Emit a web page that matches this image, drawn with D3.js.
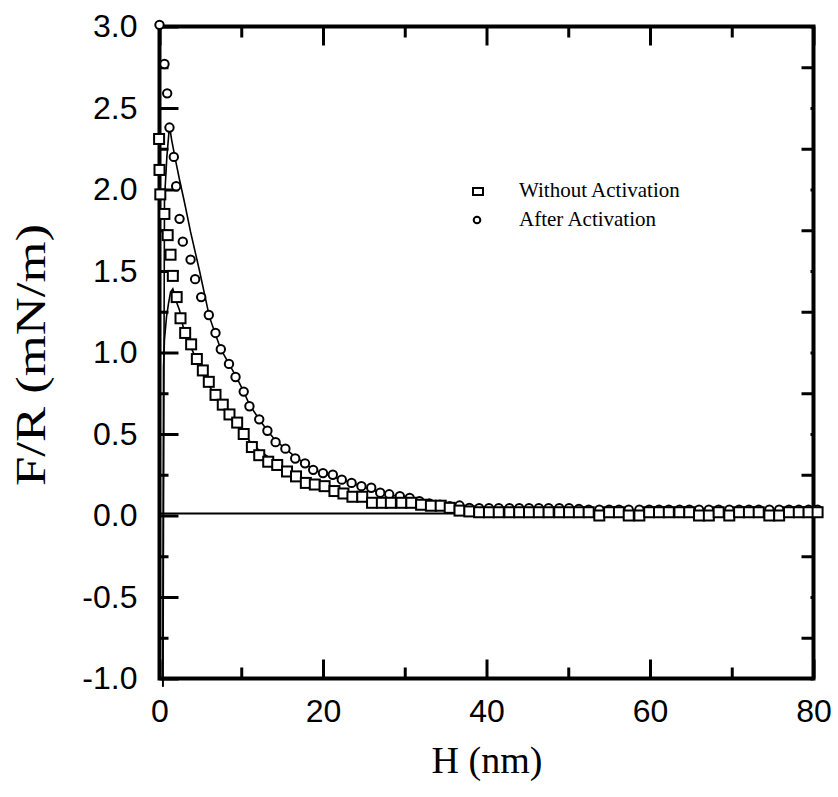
<!DOCTYPE html>
<html>
<head>
<meta charset="utf-8">
<script src="https://cdn.jsdelivr.net/npm/d3@7"></script>
<style>
body { margin: 0; background: #fff; }
.tick text { font-family: "Liberation Sans", Arial, sans-serif; font-size: 32px; fill: #000; }
</style>
</head>
<body>
<div class="container"></div>
<script>

// without activation (squares)
var sqH = [-0.05, 0, 0.1, 0.6, 1.0, 1.35, 1.63, 2.1, 2.57, 3.14, 3.87, 4.57, 5.3, 6.03, 6.85, 7.74, 8.56, 9.5,
	10.3, 11.3, 12.2, 13.3, 14.4, 15.6, 16.7, 17.9, 19.0, 20.2, 21.4, 22.5, 23.6, 24.8, 26.0, 27.2, 28.3, 29.6,
	30.8, 32.0, 33.2, 34.4, 35.5, 36.7, 37.9, 39.1, 40.3, 41.5, 42.8, 44.0, 45.2, 46.4, 47.6, 48.9, 50.1, 51.3,
	52.5, 53.8, 55.0, 56.2, 57.4, 58.7, 59.9, 61.1, 62.3, 63.6, 64.8, 66.0, 67.2, 68.4, 69.7, 70.9, 72.1, 73.3,
	74.6, 75.8, 77.0, 78.2, 79.4, 80.5];
var sqF = [2.31, 2.12, 1.97, 1.85, 1.72, 1.60, 1.47, 1.34, 1.21, 1.12, 1.05, 0.96, 0.89, 0.82, 0.74, 0.68, 0.62, 0.57,
	0.50, 0.42, 0.37, 0.33, 0.31, 0.27, 0.24, 0.20, 0.19, 0.18, 0.15, 0.135, 0.115, 0.115, 0.078, 0.078, 0.078, 0.078,
	0.078, 0.066, 0.06, 0.06, 0.047, 0.03, 0.025, 0.02, 0.02, 0.02, 0.02, 0.02, 0.02, 0.02, 0.02, 0.02, 0.02, 0.02,
	0.02, 0.0, 0.02, 0.02, 0.0, 0.0, 0.02, 0.02, 0.02, 0.02, 0.02, 0.0, 0.0, 0.02, 0.0, 0.02, 0.02, 0.02,
	0.0, 0.0, 0.02, 0.02, 0.02, 0.02];

// after activation (circles)
var cH = [0, 0.61, 0.94, 1.22, 1.75, 2.04, 2.45, 2.85, 3.8, 4.36, 5.1, 6.03, 6.85, 7.5, 8.5, 9.3, 10.3, 11.0,
	12.2, 13.2, 14.2, 15.4, 16.6, 17.8, 18.8, 20.0, 21.2, 22.3, 23.5, 24.7, 25.9, 27.0, 28.1, 29.4, 30.6, 31.8,
	33.0, 34.3, 35.5, 36.7, 37.9, 39.1, 40.3, 41.5, 42.8, 44.0, 45.2, 46.4, 47.6, 48.9, 50.1, 51.3, 52.5, 53.8,
	55.0, 56.2, 57.4, 58.7, 59.9, 61.1, 62.3, 63.6, 64.8, 66.0, 67.2, 68.4, 69.7, 70.9, 72.1, 73.3, 74.6, 75.8,
	77.0, 78.2, 79.4, 80.5];
var cF = [3.01, 2.77, 2.59, 2.38, 2.2, 2.02, 1.82, 1.68, 1.57, 1.45, 1.34, 1.23, 1.12, 1.02, 0.93, 0.85, 0.76, 0.67,
	0.59, 0.52, 0.45, 0.41, 0.35, 0.32, 0.28, 0.26, 0.25, 0.22, 0.20, 0.18, 0.17, 0.14, 0.13, 0.118, 0.108, 0.088,
	0.074, 0.067, 0.057, 0.061, 0.047, 0.045, 0.045, 0.045, 0.045, 0.045, 0.045, 0.045, 0.045, 0.045, 0.045, 0.04, 0.035, 0.035,
	0.035, 0.035, 0.035, 0.035, 0.035, 0.035, 0.035, 0.035, 0.035, 0.035, 0.035, 0.035, 0.035, 0.035, 0.035, 0.035, 0.035, 0.035,
	0.035, 0.035, 0.035, 0.035];

// fitted curves
var fitSqH = [0.40, 0.45, 0.49, 0.61, 0.86, 1.1, 1.35, 1.63, 2.0, 2.45, 2.97, 3.87, 4.57, 5.3, 6.03, 6.85, 7.74, 8.56,
	9.5, 10.3, 11.3, 12.2, 13.3, 14.4, 15.6, 16.7, 17.9, 19.0, 20.2, 22.5, 25.0, 28.0, 31.0, 34.0, 37.0, 40.0];
var fitSqF = [-1.05, 0.0, 0.91, 1.08, 1.22, 1.30, 1.37, 1.39, 1.32, 1.26, 1.14, 1.03, 0.95, 0.87, 0.80, 0.73, 0.66, 0.60,
	0.55, 0.50, 0.44, 0.40, 0.36, 0.32, 0.28, 0.25, 0.22, 0.20, 0.18, 0.15, 0.11, 0.08, 0.06, 0.04, 0.025, 0.015];
var fitCH = [0.43, 0.49, 0.55, 0.61, 0.9, 1.22, 1.5, 2.04, 2.45, 3.06, 3.8, 4.9, 6.1, 6.85, 7.5, 8.5, 9.4, 10.3,
	11.0, 12.2, 13.2, 14.2, 15.4, 16.6, 17.8, 18.8, 20.0, 22.3, 24.7, 27.0, 29.4, 31.8, 34.3, 36.7, 40.0, 45.0];
var fitCF = [-1.05, 0.0, 1.0, 1.94, 2.2, 2.39, 2.3, 2.16, 2.06, 1.92, 1.74, 1.50, 1.22, 1.11, 1.02, 0.93, 0.85, 0.76,
	0.68, 0.59, 0.52, 0.46, 0.41, 0.36, 0.32, 0.28, 0.26, 0.22, 0.18, 0.14, 0.115, 0.09, 0.065, 0.05, 0.03, 0.015];

var baseH = [0, 80];
var baseF = [0.012, 0.012];

var xMajor = [0, 20, 40, 60, 80];
var xMinor = [10, 30, 50, 70];
var yMajor = [-1.0, -0.5, 0.0, 0.5, 1.0, 1.5, 2.0, 2.5, 3.0];
var yMinor = [-0.75, -0.25, 0.25, 0.75, 1.25, 1.75, 2.25, 2.75];

var legendNames = ["Without Activation", "After Activation"];

var W = 838, H = 797;

function makeStage(w, h) {
	var stage = d3.select(".container")
		.append("svg")
		.attr("width", w)
		.attr("height", h)
		.style("display", "block");
	return stage;
}

var svg = makeStage(W, H);

var x = d3.scaleLinear().domain([0, 80]).range([159.5, 813.5]);
var y = d3.scaleLinear().domain([-1, 3]).range([678.5, 26.5]);

function styleAxis(g) {
	g.select(".domain").remove();
	g.selectAll(".tick line").attr("stroke", "#000").attr("stroke-width", 3);
}

// plain hyphen for negatives, as in the original
var fmtY = function(d) { return d.toFixed(1); };

// left axis
svg.append("g").attr("transform", "translate(" + x(0) + ",0)")
	.call(d3.axisLeft(y).tickValues(yMajor).tickSize(-19).tickPadding(22).tickFormat(fmtY))
	.call(styleAxis);
svg.append("g").attr("transform", "translate(" + x(0) + ",0)")
	.call(d3.axisLeft(y).tickValues(yMinor).tickSize(-9).tickFormat(""))
	.call(styleAxis);
// right axis
svg.append("g").attr("transform", "translate(" + x(80) + ",0)")
	.call(d3.axisRight(y).tickValues(yMinor).tickSize(-12).tickFormat(""))
	.call(styleAxis);
svg.append("g").attr("transform", "translate(" + x(80) + ",0)")
	.call(d3.axisRight(y).tickValues(yMajor).tickSize(-3).tickFormat(""))
	.call(styleAxis);
// bottom axis
svg.append("g").attr("transform", "translate(0," + y(-1) + ")")
	.call(d3.axisBottom(x).tickValues(xMajor).tickSize(-19).tickPadding(21).tickFormat(d3.format("d")))
	.call(styleAxis);
svg.append("g").attr("transform", "translate(0," + y(-1) + ")")
	.call(d3.axisBottom(x).tickValues(xMinor).tickSize(-11).tickFormat(""))
	.call(styleAxis);
// top axis
svg.append("g").attr("transform", "translate(0," + y(3) + ")")
	.call(d3.axisTop(x).tickValues(xMajor).tickSize(-19).tickFormat(""))
	.call(styleAxis);
svg.append("g").attr("transform", "translate(0," + y(3) + ")")
	.call(d3.axisTop(x).tickValues(xMinor).tickSize(-11).tickFormat(""))
	.call(styleAxis);

// frame
svg.append("rect")
	.attr("x", x(0)).attr("y", y(3))
	.attr("width", x(80) - x(0)).attr("height", y(-1) - y(3))
	.attr("fill", "none").attr("stroke", "#000").attr("stroke-width", 4);

var line = d3.line()
	.x(function(d) { return x(d[0]); })
	.y(function(d) { return y(d[1]); });

function pairs(a, b) { return a.map(function(v, i) { return [v, b[i]]; }); }

svg.append("path").datum(pairs(baseH, baseF))
	.attr("d", line).attr("fill", "none").attr("stroke", "#000").attr("stroke-width", 2);
svg.append("path").datum(pairs(fitSqH, fitSqF))
	.attr("d", line).attr("fill", "none").attr("stroke", "#000").attr("stroke-width", 1.6);
svg.append("path").datum(pairs(fitCH, fitCF))
	.attr("d", line).attr("fill", "none").attr("stroke", "#000").attr("stroke-width", 1.6);

svg.append("g").selectAll("circle")
	.data(pairs(cH, cF))
	.enter().append("circle")
	.attr("cx", function(d) { return x(d[0]); })
	.attr("cy", function(d) { return y(d[1]); })
	.attr("r", 4.2)
	.attr("fill", "#fff").attr("stroke", "#000").attr("stroke-width", 2);

svg.append("g").selectAll("rect")
	.data(pairs(sqH, sqF))
	.enter().append("rect")
	.attr("x", function(d) { return x(d[0]) - 5; })
	.attr("y", function(d) { return y(d[1]) - 5; })
	.attr("width", 10).attr("height", 10)
	.attr("fill", "#fff").attr("stroke", "#000").attr("stroke-width", 2);

// legend
var leg = svg.append("g");
leg.append("rect").attr("x", 473).attr("y", 188).attr("width", 10).attr("height", 7)
	.attr("fill", "#fff").attr("stroke", "#000").attr("stroke-width", 2);
leg.append("circle").attr("cx", 477).attr("cy", 220).attr("r", 3.3)
	.attr("fill", "#fff").attr("stroke", "#000").attr("stroke-width", 2);
leg.selectAll("text").data(legendNames).enter().append("text")
	.attr("x", 519)
	.attr("y", function(d, i) { return 197 + i * 29; })
	.style("font-family", "'Liberation Serif', 'Times New Roman', serif")
	.style("font-size", "21px")
	.text(function(d) { return d; });

// axis titles
svg.append("text")
	.attr("x", 487).attr("y", 773)
	.attr("text-anchor", "middle")
	.style("font-family", "'Liberation Serif', 'Times New Roman', serif")
	.style("font-size", "38px")
	.text("H (nm)");
svg.append("text")
	.attr("transform", "translate(45,355) rotate(-90)")
	.attr("text-anchor", "middle")
	.attr("textLength", 262)
	.attr("lengthAdjust", "spacingAndGlyphs")
	.style("font-family", "'Liberation Serif', 'Times New Roman', serif")
	.style("font-size", "43px")
	.text("F/R (mN/m)");

</script>
</body>
</html>
